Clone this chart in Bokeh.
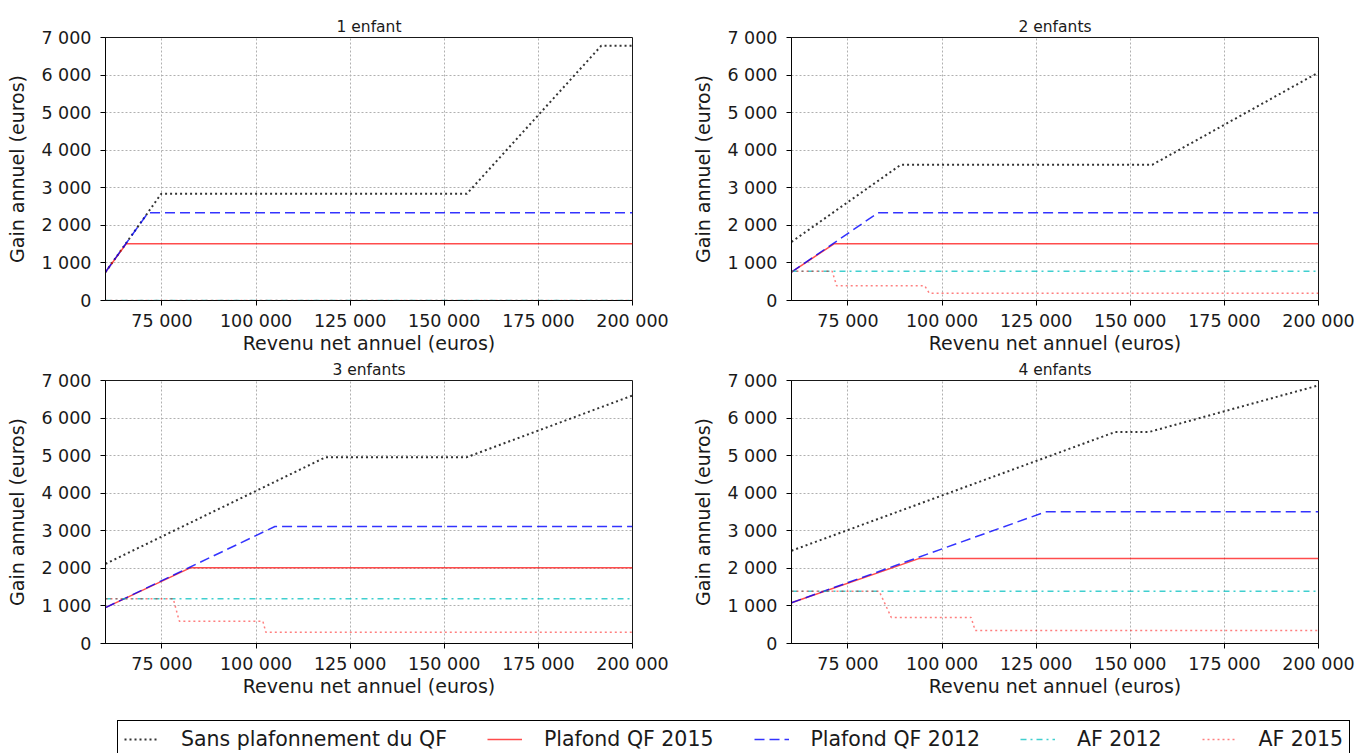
from bokeh.plotting import figure
from bokeh.layouts import column, row
from bokeh.models import Range1d, FixedTicker, Legend, LegendItem
from bokeh.embed import file_html
from bokeh.resources import INLINE

FONT = "DejaVu Sans"

# ---------------- data ----------------
panel_titles = ["1 enfant", "2 enfants", "3 enfants", "4 enfants"]
legend_labels = ["Sans plafonnement du QF", "Plafond QF 2015", "Plafond QF 2012", "AF 2012", "AF 2015"]
x_ticks = [75000, 100000, 125000, 150000, 175000, 200000]
x_tick_labels = ["75 000", "100 000", "125 000", "150 000", "175 000", "200 000"]
y_ticks = [0, 1000, 2000, 3000, 4000, 5000, 6000, 7000]
y_tick_labels = ["0", "1 000", "2 000", "3 000", "4 000", "5 000", "6 000", "7 000"]
x_axis_label = "Revenu net annuel (euros)"
y_axis_label = "Gain annuel (euros)"

# 1 enfant
sans_qf_1_x = [60000, 74800, 156000, 191700, 200000]
sans_qf_1_y = [755, 2840, 2840, 6780, 6780]
qf2015_1_x = [60000, 65500, 200000]
qf2015_1_y = [755, 1510, 1510]
qf2012_1_x = [60000, 71300, 200000]
qf2012_1_y = [755, 2336, 2336]
af2012_1_x = [60000, 200000]
af2012_1_y = [0, 0]
af2015_1_x = [60000, 200000]
af2015_1_y = [0, 0]

# 2 enfants
sans_qf_2_x = [60000, 89000, 155800, 200000]
sans_qf_2_y = [1560, 3610, 3610, 6070]
qf2015_2_x = [60000, 71300, 200000]
qf2015_2_y = [755, 1510, 1510]
qf2012_2_x = [60000, 83000, 200000]
qf2012_2_y = [755, 2336, 2336]
af2012_2_x = [60000, 200000]
af2012_2_y = [780, 780]
af2015_2_x = [60000, 70800, 72000, 95400, 96600, 200000]
af2015_2_y = [780, 780, 390, 390, 195, 195]

# 3 enfants
sans_qf_3_x = [60000, 118500, 156000, 200000]
sans_qf_3_y = [2120, 4960, 4960, 6600]
qf2015_3_x = [60000, 82500, 200000]
qf2015_3_y = [955, 2013, 2013]
qf2012_3_x = [60000, 105000, 200000]
qf2012_3_y = [955, 3115, 3115]
af2012_3_x = [60000, 200000]
af2012_3_y = [1190, 1190]
af2015_3_x = [60000, 78000, 79600, 101800, 102600, 200000]
af2015_3_y = [1190, 1190, 595, 595, 297, 297]

# 4 enfants
sans_qf_4_x = [60000, 146000, 155000, 200000]
sans_qf_4_y = [2470, 5630, 5630, 6870]
qf2015_4_x = [60000, 94000, 200000]
qf2015_4_y = [1085, 2265, 2265]
qf2012_4_x = [60000, 127500, 200000]
qf2012_4_y = [1085, 3504, 3504]
af2012_4_x = [60000, 200000]
af2012_4_y = [1390, 1390]
af2015_4_x = [60000, 83300, 86500, 107700, 108800, 200000]
af2015_4_y = [1390, 1390, 695, 695, 347, 347]

panels = [
    [(sans_qf_1_x, sans_qf_1_y), (qf2015_1_x, qf2015_1_y), (qf2012_1_x, qf2012_1_y), (af2012_1_x, af2012_1_y), (af2015_1_x, af2015_1_y)],
    [(sans_qf_2_x, sans_qf_2_y), (qf2015_2_x, qf2015_2_y), (qf2012_2_x, qf2012_2_y), (af2012_2_x, af2012_2_y), (af2015_2_x, af2015_2_y)],
    [(sans_qf_3_x, sans_qf_3_y), (qf2015_3_x, qf2015_3_y), (qf2012_3_x, qf2012_3_y), (af2012_3_x, af2012_3_y), (af2015_3_x, af2015_3_y)],
    [(sans_qf_4_x, sans_qf_4_y), (qf2015_4_x, qf2015_4_y), (qf2012_4_x, qf2012_4_y), (af2012_4_x, af2012_4_y), (af2015_4_x, af2015_4_y)],
]

# ---------------- styles ----------------
styles = [
    dict(line_color="black", line_alpha=0.8, line_width=2, line_dash="2 3"),
    dict(line_color="#ff0000", line_alpha=0.7, line_width=1.5),
    dict(line_color="#0000ff", line_alpha=0.8, line_width=1.5, line_dash="10 5"),
    dict(line_color="#00bfbf", line_alpha=0.75, line_width=1.5, line_dash="6 4 2 4"),
    dict(line_color="#ff0000", line_alpha=0.5, line_width=1.5, line_dash="2 3"),
]

TEXT_COLOR = "#1a1a1a"


def make_panel(title, series, width, height, bl, br, bt, bb):
    p = figure(width=width, height=height,
               x_range=Range1d(60000, 200000), y_range=Range1d(0, 7000),
               output_backend="svg", toolbar_location=None,
               min_border_left=bl, min_border_right=br,
               min_border_top=bt, min_border_bottom=bb,
               title=title)
    p.title.align = "center"
    p.title.text_font = FONT
    p.title.text_font_size = "15.5px"
    p.title.text_font_style = "normal"
    p.title.text_color = TEXT_COLOR
    p.title.standoff = 4
    p.background_fill_color = "white"
    p.border_fill_color = "white"
    p.outline_line_color = "black"
    p.outline_line_alpha = 0.9
    p.outline_line_width = 1

    p.xaxis.ticker = FixedTicker(ticks=x_ticks)
    p.xgrid.ticker = FixedTicker(ticks=x_ticks)
    p.xaxis.major_label_overrides = dict(zip(x_ticks, x_tick_labels))
    p.yaxis.ticker = FixedTicker(ticks=y_ticks)
    p.ygrid.ticker = FixedTicker(ticks=y_ticks)
    p.yaxis.major_label_overrides = dict(zip(y_ticks, y_tick_labels))
    p.xaxis.axis_label = x_axis_label
    p.yaxis.axis_label = y_axis_label

    for ax in (p.xaxis[0], p.yaxis[0]):
        ax.major_label_text_font = FONT
        ax.major_label_text_font_size = "17.5px"
        ax.major_label_text_color = TEXT_COLOR
        ax.axis_label_text_font = FONT
        ax.axis_label_text_font_size = "19px"
        ax.axis_label_text_font_style = "normal"
        ax.axis_label_text_color = TEXT_COLOR
        ax.axis_line_color = "black"
        ax.axis_line_alpha = 0.8
        ax.major_tick_line_color = "black"
        ax.major_tick_out = 5
        ax.major_tick_in = 0
        ax.minor_tick_line_color = None
    p.xaxis.major_label_standoff = 5
    p.xaxis.axis_label_standoff = -2
    p.yaxis.major_label_standoff = 9
    p.yaxis.axis_label_standoff = 10

    for g in (p.xgrid[0], p.ygrid[0]):
        g.grid_line_color = "#b0b0b0"
        g.grid_line_dash = "2 2"
        g.grid_line_width = 1

    for (xs, ys), st in zip(series, styles):
        p.line(xs, ys, **st)
    return p


f1 = make_panel(panel_titles[0], panels[0], 686, 356, 105, 54, 37, 56)
f2 = make_panel(panel_titles[1], panels[1], 672, 356, 105, 40, 37, 56)
f3 = make_panel(panel_titles[2], panels[2], 686, 343, 105, 54, 23, 56)
f4 = make_panel(panel_titles[3], panels[3], 672, 343, 105, 40, 23, 56)

# legend strip: the legend's sample renderers reuse a panel's series,
# which fall outside the (0..1) ranges of this strip so only the legend shows.
lf = figure(width=1358, height=54, x_range=Range1d(0, 1), y_range=Range1d(0, 1),
            output_backend="svg", toolbar_location=None, min_border=0,
            x_axis_type=None, y_axis_type=None)
lf.outline_line_color = None
lf.background_fill_color = "white"
lf.border_fill_color = "white"
items = []
for lab, (xs, ys), st in zip(legend_labels, panels[3], styles):
    r = lf.line(xs, ys, **st)
    items.append(LegendItem(label=lab, renderers=[r]))
legend = Legend(items=items, location=(117, -5), orientation="horizontal",
                border_line_color="black", border_line_width=1, border_line_alpha=1,
                background_fill_color="white", background_fill_alpha=1,
                label_text_font=FONT, label_text_font_size="20.5px", label_text_color=TEXT_COLOR,
                glyph_width=35, glyph_height=20, label_height=20, label_standoff=22,
                spacing=40, padding=6, margin=0)
lf.add_layout(legend)

layout = column(row(f1, f2), row(f3, f4), lf)

open("out.html", "w").write(file_html(layout, INLINE))
